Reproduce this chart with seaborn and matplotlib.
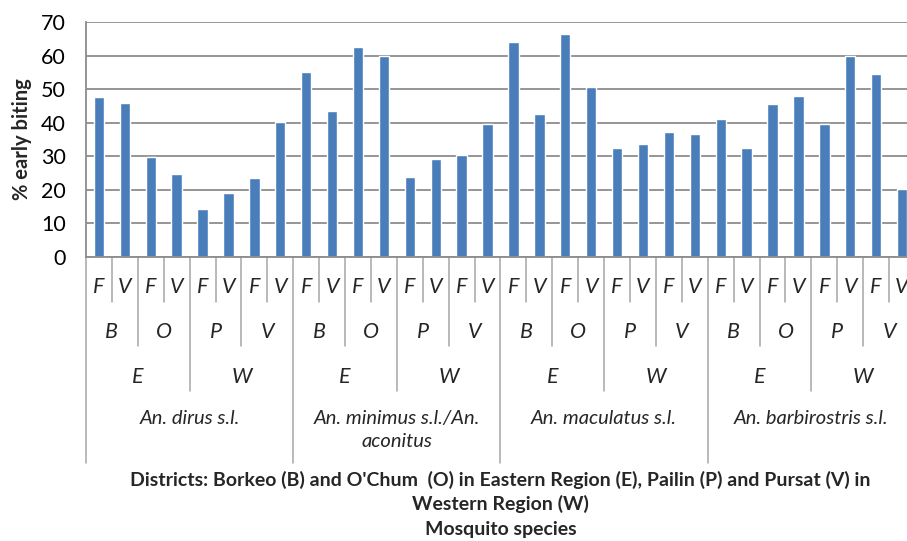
import numpy as np
import pandas as pd
import matplotlib
matplotlib.use('Agg')
import matplotlib.pyplot as plt
import seaborn as sns

species = ['An. dirus s.l.', 'An. minimus s.l./An.\naconitus', 'An. maculatus s.l.', 'An. barbirostris s.l.']
regions = ['E', 'W']
districts = {'E': ['B', 'O'], 'W': ['P', 'V']}
times = ['F', 'V']

# % early biting, order: E-B-F, E-B-V, E-O-F, E-O-V, W-P-F, W-P-V, W-V-F, W-V-V
dirus = [47.6, 45.8, 29.9, 24.7, 14.2, 19.2, 23.4, 40.2]
minimus = [55.2, 43.5, 62.6, 59.9, 23.7, 29.3, 30.3, 39.7]
maculatus = [64.0, 42.5, 66.3, 50.5, 32.6, 33.7, 37.2, 36.5]
barbirostris = [41.2, 32.6, 45.5, 47.9, 39.7, 60.0, 54.5, 20.3]

rows = []
for sp, vals in zip(species, [dirus, minimus, maculatus, barbirostris]):
    k = 0
    for r in regions:
        for d in districts[r]:
            for t in times:
                rows.append({'species': sp, 'region': r, 'district': d, 'time': t,
                             'key': f'{sp}|{r}|{d}|{t}', 'value': vals[k]})
                k += 1
df = pd.DataFrame(rows)

sns.set_style('white')
plt.rcParams['font.family'] = ['Lato', 'DejaVu Sans']

W, H = 907, 541
fig = plt.figure(figsize=(W / 100, H / 100), dpi=100)
x0, x1, y0, y1 = 86, 915, 257, 22
ax = fig.add_axes([x0 / W, 1 - y0 / H, (x1 - x0) / W, (y0 - y1) / H])

sns.barplot(data=df, x='key', y='value', order=list(df['key']), color='#4a7ebb',
            saturation=1, width=0.4, ax=ax, errorbar=None)

grey = '#8c8c8c'
ax.set_xlim(-0.5, len(df) - 0.5)
ax.set_ylim(0, 70)
ax.set_yticks(range(0, 71, 10))
ax.yaxis.grid(True, color=grey, lw=1.3)
ax.set_axisbelow(True)
ax.tick_params(axis='y', length=6.5, color=grey, width=1.3, labelsize=15.5, pad=8, labelcolor='black')
ax.tick_params(axis='x', length=0, labelbottom=False)
ax.set_xlabel('')
ax.set_ylabel('% early biting', fontsize=14.5, fontweight='bold')
ax.yaxis.set_label_coords((32 - x0) / (x1 - x0), 0.5)
for s in ['top', 'right']:
    ax.spines[s].set_visible(False)
for s in ['left', 'bottom']:
    ax.spines[s].set_color(grey)
    ax.spines[s].set_linewidth(1.3)

tr = ax.get_xaxis_transform()
def ay(py):
    return (y0 - py) / (y0 - y1)

# separators
line_c = '#a6a6a6'
for i in range(len(df) + 1):
    if i % 8 == 0:
        bottom = 463
    elif i % 4 == 0:
        bottom = 391
    elif i % 2 == 0:
        bottom = 346
    else:
        bottom = 302
    ax.plot([i - 0.5, i - 0.5], [0, ay(bottom)], transform=tr, color=line_c, lw=1.1,
            clip_on=False)

# labels
for i, row in df.iterrows():
    ax.text(i, ay(287), row['time'], transform=tr, ha='center', va='center',
            fontsize=15.5, style='italic')
for j in range(0, len(df), 2):
    ax.text(j + 0.5, ay(332), df['district'][j], transform=tr, ha='center', va='center',
            fontsize=15.5, style='italic')
for j in range(0, len(df), 4):
    ax.text(j + 1.5, ay(377), df['region'][j], transform=tr, ha='center', va='center',
            fontsize=15.5, style='italic')
for j in range(0, len(df), 8):
    ax.text(j + 3.5, ay(410), df['species'][j], transform=tr, ha='center', va='top',
            fontsize=14.5, style='italic', linespacing=1.4)

cx = (x0 + x1) / 2 / W
fig.text(cx, 1 - 480 / H, "Districts: Borkeo (B) and O'Chum  (O) in Eastern Region (E), Pailin (P) and Pursat (V) in",
         ha='center', va='center', fontsize=14, fontweight='bold')
fig.text(cx, 1 - 504 / H, 'Western Region (W)', ha='center', va='center', fontsize=14, fontweight='bold')
fig.text(cx, 1 - 529 / H, 'Mosquito species', ha='center', va='center', fontsize=14, fontweight='bold')

fig.savefig('out.png', dpi=100)
